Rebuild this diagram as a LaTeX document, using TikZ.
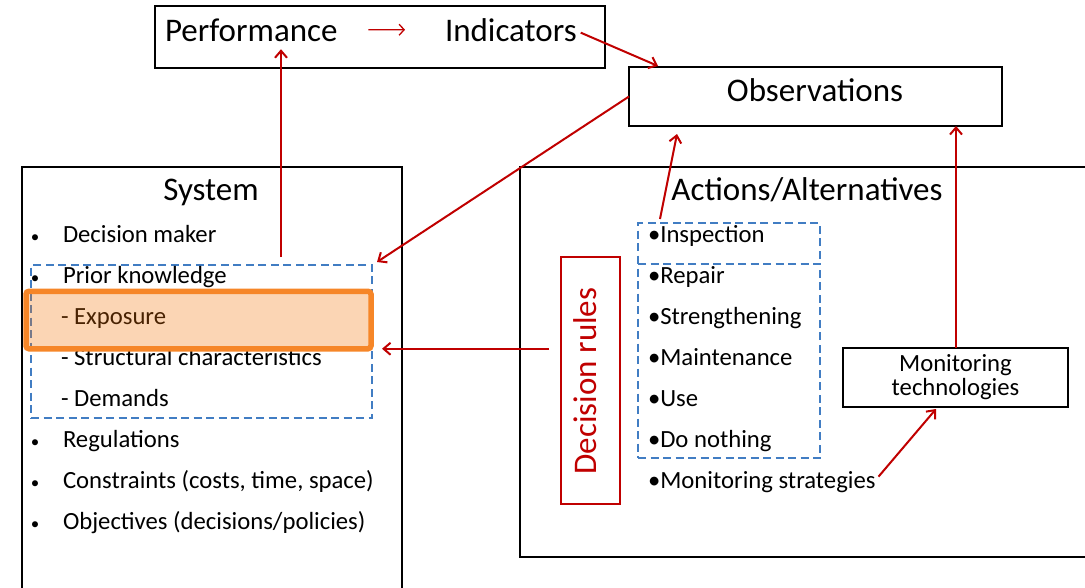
\documentclass[tikz,border=0pt]{standalone}
\usepackage{fontspec}
\setmainfont{Carlito}
\usetikzlibrary{calc,positioning,arrows.meta}
\definecolor{darkred}{RGB}{192,0,0}
\definecolor{dashblue}{RGB}{65,125,195}
\definecolor{orangeedge}{RGB}{246,134,40}
\definecolor{orangefill}{RGB}{241,115,8}

\begin{document}
\begin{tikzpicture}[x=1pt,y=-1pt,>={Straight Barb[length=7pt,width=12pt]},
	box/.style={draw,line width=2pt,inner sep=0pt,outer sep=0pt},
	dashbox/.style={draw=dashblue,line width=1.6pt,dash pattern=on 8pt off 4.5pt,inner sep=0pt,outer sep=0pt},
	link/.style={->,draw=darkred,line width=2pt},
	big/.style={font=\fontsize{33}{40}\selectfont,inner sep=0pt,outer sep=0pt},
	item/.style={font=\fontsize{24.7}{29}\selectfont,inner sep=0pt,outer sep=0pt,anchor=base west}]

	% Frame of the picture
	\useasboundingbox (0,0) rectangle (1085,587);
	\clip (0,0) rectangle (1085,587);

	% Draw the outer boxes
	\node[box,minimum width=450pt,minimum height=62pt] (perfbox) at (380,37) {};
	\node[box,minimum width=373pt,minimum height=59pt] (obsbox) at (815.5,96.5) {};
	\node[box,minimum width=380pt,minimum height=460pt] (sysbox) at (212,397) {};
	\node[box,minimum width=580pt,minimum height=390pt] (actbox) at (810,362) {};

	% Titles
	\node[big,anchor=base west] (perf) at (165,41) {Performance};
	\node[big,anchor=base west] (ind) at (445,41) {Indicators};
	\node[big,anchor=base] (obs) at (815,101) {Observations};
	\node[big,anchor=base] (systitle) at (211,200) {System};
	\node[big,anchor=base] (acttitle) at (807,200) {Actions/Alternatives};

	% System list
	\node[dashbox,minimum width=341pt,minimum height=153pt] (prior) at (201.5,341.5) {};
	\foreach \k in {0,1,5,6,7}
		\node[item,anchor=base,font=\fontsize{17}{20}\selectfont] (dot\k) at (35,{242+41*\k}) {\textbullet};
	\node[item] (sys1) at (63,242) {Decision maker};
	\node[item] (sys2) at (63,283) {Prior knowledge};
	\node[item] (sys3) at (61,324) {- Exposure};
	\node[item] (sys4) at (61,365) {- Structural characteristics};
	\node[item] (sys5) at (61,406) {- Demands};
	\node[item] (sys6) at (63,447) {Regulations};
	\node[item] (sys7) at (63,488) {Constraints (costs, time, space)};
	\node[item] (sys8) at (63,529) {Objectives (decisions/policies)};
	\node[draw=orangeedge,line width=5.5pt,fill=orangefill,fill opacity=0.3,draw opacity=1,
		rounded corners=3pt,inner sep=0pt,outer sep=0pt,minimum width=345pt,minimum height=57.5pt] (expo) at (198.5,320) {};

	% Actions list
	\node[dashbox,minimum width=182pt,minimum height=41pt] (inspbox) at (729,243.5) {};
	\node[dashbox,minimum width=182pt,minimum height=194pt] (optbox) at (729,361) {};
	\node[item] (act1) at (648,242) {\textbullet Inspection};
	\node[item] (act2) at (648,283) {\textbullet Repair};
	\node[item] (act3) at (648,324) {\textbullet Strengthening};
	\node[item] (act4) at (648,365) {\textbullet Maintenance};
	\node[item] (act5) at (648,406) {\textbullet Use};
	\node[item] (act6) at (648,447) {\textbullet Do nothing};
	\node[item] (act7) at (648,488) {\textbullet Monitoring strategies};

	% Decision rules and monitoring
	\node[box,draw=darkred,minimum width=59pt,minimum height=247pt] (rulesbox) at (590.5,380.5) {};
	\node[big,text=darkred,rotate=90,anchor=base] (rules) at (596,381) {Decision rules};
	\node[box,align=center,font=\fontsize{24.7}{24}\selectfont,minimum width=225pt,minimum height=59pt] (montech) at (955.5,377.5) {Monitoring\\technologies};

	% Draw the links
	\draw[link,line width=1.3pt,shorten <=31pt,shorten >=40pt,-{Straight Barb[length=5pt,width=11pt]}] (perf.east) -- (ind.west);
	\coordinate (pk) at ($(prior.north)+(79.5,-8)$);
	\draw[link] (pk) -- ($(pk |- perf.south)+(0,8)$);
	\draw[link] ($(ind.east)+(4,3)$) -- ($(obsbox.north west)+(29,-1)$);
	\draw[link] (obsbox.west) -- ($(prior.north east)+(5,-3)$);
	\draw[link] ($(inspbox.north west)+(22,-4)$) -- ($(obsbox.south west)+(48,8)$);
	\draw[link] ($(montech.north)+(0.5,0)$) -- ($(montech.north |- obsbox.south)+(0.5,0)$);
	\draw[link] ($(act7.east)+(3,-5)$) -- ($(montech.south)+(-19.5,2)$);
	\draw[link] ($(rulesbox.west |- expo.south east)+(-12,0)$) -- ($(expo.south east)+(11,0)$);
\end{tikzpicture}
\end{document}
